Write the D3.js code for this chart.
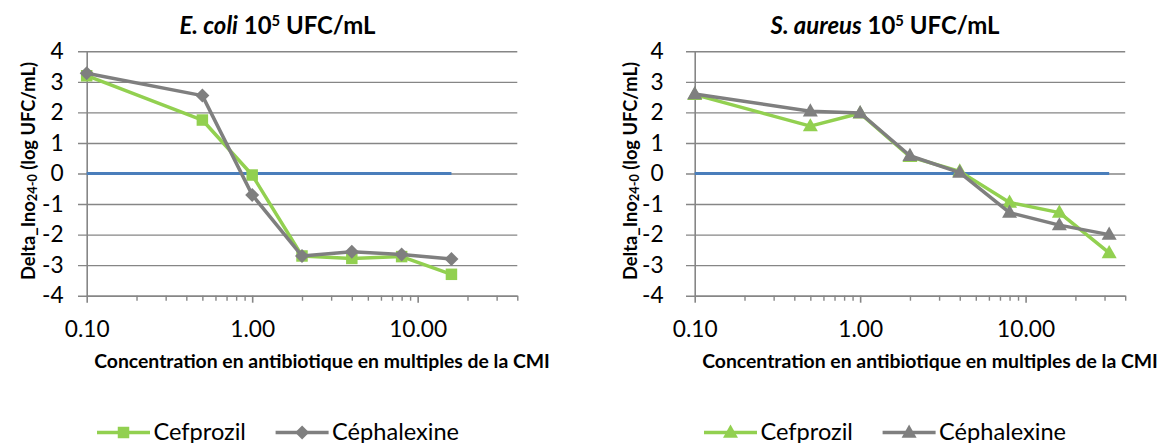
<!DOCTYPE html>
<html><head><meta charset="utf-8">
<script src="https://cdn.jsdelivr.net/npm/d3@7/dist/d3.min.js"></script>
<style>
body{margin:0;background:#fff;}
svg{display:block;font-family:Lato,"Open Sans",sans-serif;}
</style></head>
<body><svg id="c" width="1160" height="443"></svg>
<script>
// ---------- data ----------
const concEcoli = [0.1, 0.5, 1, 2, 4, 8, 16];
const ecoliCefprozil = [3.2, 1.75, -0.05, -2.7, -2.78, -2.72, -3.3];
const ecoliCephalexine = [3.28, 2.55, -0.7, -2.7, -2.56, -2.65, -2.8];

const concSaureus = [0.1, 0.5, 1, 2, 4, 8, 16, 32];
const saureusCefprozil = [2.58, 1.55, 1.97, 0.55, 0.07, -0.95, -1.28, -2.6];
const saureusCephalexine = [2.6, 2.04, 1.98, 0.58, 0.03, -1.28, -1.69, -2.0];

const yTicks = [-4, -3, -2, -1, 0, 1, 2, 3, 4];
const xTicks = [0.1, 1, 10];
const xTickLabels = ["0.10", "1.00", "10.00"];
const xMinorTicks = [0.2,0.3,0.4,0.5,0.6,0.7,0.8,0.9,2,3,4,5,6,7,8,9,20,30,40];
const seriesNames = ["Cefprozil", "Céphalexine"];
const xTitle = "Concentration en antibiotique en multiples de la CMI";

// ---------- style ----------
const GREEN = "#92D050", GRAY = "#7F7F7F", BLUE = "#4A7EBB", GRID = "#868686";
const svg = d3.select("#c");

function fitWidth(sel, target){
  const w = sel.node().getComputedTextLength();
  const fs = parseFloat(sel.attr("font-size"));
  const nf = fs * target / w;
  sel.attr("font-size", nf);
  return nf;
}

const charts = [
  {species:"E. coli", conc:concEcoli, a:ecoliCefprozil, b:ecoliCephalexine, marker:["square","diamond"],
   x0:86.7, x1:517.3, titleX:277.5, titleW:196, ytitleX:28.3, tickPad:14.4, xtitleX:322, legendX:97},
  {species:"S. aureus", conc:concSaureus, a:saureusCefprozil, b:saureusCephalexine, marker:["triangle","triangle"],
   x0:694.7, x1:1125.2, titleX:885, titleW:229, ytitleX:630, tickPad:22.4, xtitleX:930, legendX:704}
];
const yTop = 51.3, yBot = 295.7;

function markerPath(type){
  if(type==="square") return d3.symbol(d3.symbolSquare, 132)();
  if(type==="diamond") return "M0,-7L7,0L0,7L-7,0Z";
  return "M0,-8L7.5,5.2L-7.5,5.2Z";
}

charts.forEach(c=>{
  const g = svg.append("g");
  const x = d3.scaleLog().domain([0.1, 40]).range([c.x0, c.x1]);
  const y = d3.scaleLinear().domain([-4, 4]).range([yBot, yTop]);

  // grid lines (extend left to act as major tick marks)
  const grid = g.append("g").attr("transform", `translate(${c.x1},0)`)
    .call(d3.axisLeft(y).tickValues(yTicks).tickSize(c.x1 - c.x0 + 8.7).tickFormat(""));
  grid.select(".domain").remove();
  grid.selectAll("line").attr("stroke", GRID).attr("stroke-width", 1.4);

  // y axis with labels
  const ya = g.append("g").attr("transform", `translate(${c.x0},0)`)
    .call(d3.axisLeft(y).tickValues(yTicks).tickSize(0).tickSizeOuter(0).tickPadding(8.7 + c.tickPad).tickFormat(d=>String(d)));
  ya.select(".domain").attr("stroke", GRID).attr("stroke-width", 1.6);
  ya.selectAll("text").attr("font-size", 22).attr("fill", "#000").attr("font-family","Lato");

  // x axis major
  const xa = g.append("g").attr("transform", `translate(0,${yBot})`)
    .call(d3.axisBottom(x).tickValues(xTicks).tickSize(7).tickSizeOuter(0).tickFormat((d,i)=>xTickLabels[i]));
  xa.select(".domain").attr("stroke", GRID).attr("stroke-width", 1.6);
  xa.selectAll("line").attr("stroke", GRID).attr("stroke-width", 1.6);
  xa.selectAll("text").attr("font-size", 22).attr("fill", "#000").attr("font-family","Lato")
    .attr("dy", null).attr("y", 337 - yBot);
  const last = xa.selectAll("text").filter((d,i)=>i===2);
  const tfs = fitWidth(last, 58);
  xa.selectAll("text").attr("font-size", tfs);
  ya.selectAll("text").attr("font-size", tfs);

  // x minor ticks
  const xm = g.append("g").attr("transform", `translate(0,${yBot})`)
    .call(d3.axisBottom(x).tickValues(xMinorTicks).tickSize(5).tickFormat(""));
  xm.select(".domain").remove();
  xm.selectAll("line").attr("stroke", GRID).attr("stroke-width", 1.4);

  // zero reference line
  const zeroData = [c.conc[0], c.conc[c.conc.length-1]];
  g.append("path").datum(zeroData)
    .attr("d", d3.line().x(d=>x(d)).y(()=>y(0)))
    .attr("stroke", BLUE).attr("stroke-width", 3).attr("fill","none");

  const series = [{vals:c.a, color:GREEN, m:c.marker[0]}, {vals:c.b, color:GRAY, m:c.marker[1]}];
  series.forEach(s=>{
    const pts = c.conc.map((v,i)=>[v, s.vals[i]]);
    g.append("path").datum(pts)
      .attr("d", d3.line().x(d=>x(d[0])).y(d=>y(d[1])))
      .attr("stroke", s.color).attr("stroke-width", 3.5).attr("fill","none").attr("stroke-linejoin","round");
    g.selectAll(null).data(pts).enter().append("path")
      .attr("transform", d=>`translate(${x(d[0])},${y(d[1])})`)
      .attr("d", markerPath(s.m)).attr("fill", s.color);
  });

  // chart title
  const t = g.append("text").attr("x", c.titleX).attr("y", 34).attr("text-anchor","middle")
    .attr("font-weight","bold").attr("font-size", 22).attr("fill","#000");
  t.append("tspan").attr("font-style","italic").text(c.species);
  t.append("tspan").text(" 10");
  t.append("tspan").attr("font-size","0.62em").attr("dy", -8).text("5");
  t.append("tspan").attr("dy", 8).text(" UFC/mL");
  fitWidth(t, c.titleW);

  // y axis title
  const yt = g.append("text").attr("transform", `translate(${c.ytitleX},171) rotate(-90)`)
    .attr("text-anchor","middle").attr("dominant-baseline","central")
    .attr("font-weight","bold").attr("font-size", 16).attr("fill","#000");
  yt.append("tspan").text("Delta_Ino");
  yt.append("tspan").attr("font-size","0.7em").attr("dy", 4).text("24-0");
  yt.append("tspan").attr("dy", -4).text(" (log UFC/mL)");
  fitWidth(yt, 218);

  // x axis title
  const xtt = g.append("text").attr("x", c.xtitleX).attr("y", 368).attr("text-anchor","middle")
    .attr("font-weight","bold").attr("font-size", 16).attr("fill","#000").text(xTitle);
  fitWidth(xtt, 456);

  // legend
  const lg = g.append("g").attr("transform", `translate(${c.legendX},432.5)`);
  let lfs = null;
  series.forEach((s,i)=>{
    const ox = i*178.6;
    lg.append("line").attr("x1", ox).attr("x2", ox+53).attr("y1",0).attr("y2",0)
      .attr("stroke", s.color).attr("stroke-width", 3.5);
    lg.append("path").attr("transform", `translate(${ox+26.5},0)`).attr("d", markerPath(s.m)).attr("fill", s.color);
    const lt = lg.append("text").attr("x", ox+56.5).attr("y", 7).attr("font-size", 22).attr("fill","#000").text(seriesNames[i]);
    if(i===0) lfs = fitWidth(lt, 92.5); else lt.attr("font-size", lfs);
  });
});
</script>
</body></html>
